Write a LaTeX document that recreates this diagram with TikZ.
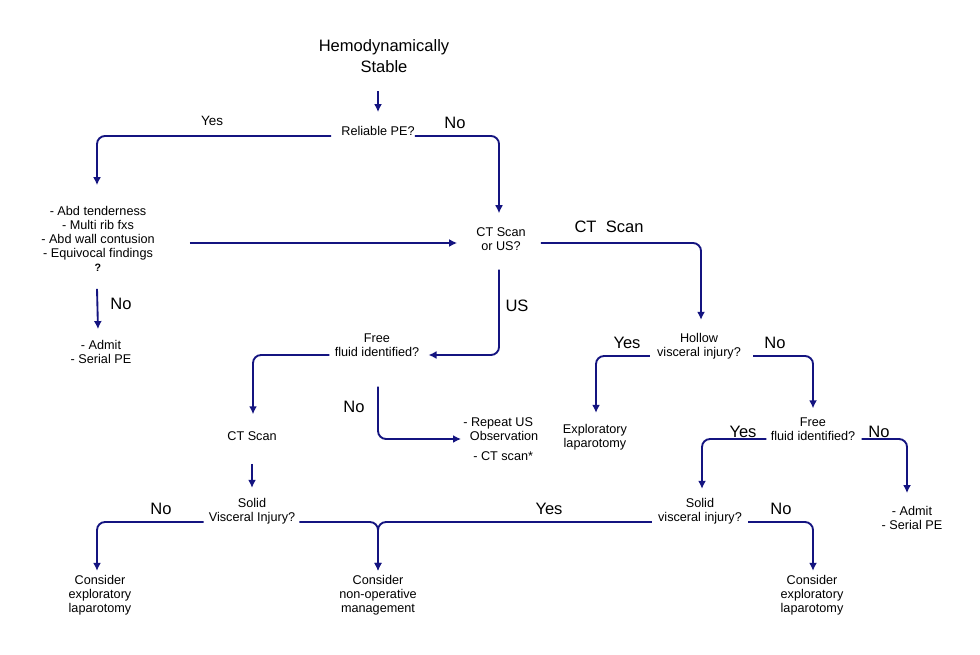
\documentclass[tikz,border=0pt]{standalone}
\usepackage{fontspec}
\setmainfont{Liberation Sans}
\usetikzlibrary{arrows.meta,calc}
\definecolor{navy}{RGB}{20,20,128}
\begin{document}
\begin{tikzpicture}[x=0.75pt,y=-0.75pt,
  txt/.style={inner sep=0pt, align=center, font=\fontsize{9.5}{10.5}\selectfont},
  big/.style={inner sep=0pt, align=center, font=\fontsize{12.4}{15.75}\selectfont},
  lbl/.style={inner sep=0pt, font=\fontsize{12.4}{15}\selectfont},
  conn/.style={draw=navy, line width=1.4pt, rounded corners=6pt},
  arr/.style={conn, -{Latex[length=6pt,width=6pt]}}]
\useasboundingbox[fill=white] (0,0) rectangle (980,655);

% main nodes
\node[big] (hemo) at (384,56) {Hemodynamically\\Stable};
\node[txt] (rel) at (378,131) {Reliable PE?};
\node[txt] (signs) at (98,239) {- Abd tenderness\\- Multi rib fxs\\- Abd wall contusion\\- Equivocal findings\\{\fontsize{8}{10.5}\selectfont\bfseries ?}};
\node[txt] (admit1) at (101,352) {- Admit\\- Serial PE};
\node[txt] (ctus) at (501,239) {CT Scan\\or US?};
\node[txt] (ff1) at (377,345) {Free\\fluid identified?};
\node[txt] (ct1) at (252,436) {CT Scan};
\node[txt, anchor=west, align=left] (rep) at (463,439) {- Repeat US\\\hspace*{5pt}Observation\\[4.5pt]\hspace*{7.5pt}- CT scan*};
\node[txt] (svi1) at (252,511) {Solid\\Visceral Injury?};
\node[txt] (cel1) at (100,595) {Consider\\exploratory\\laparotomy};
\node[txt] (nonop) at (378,595) {Consider\\non-operative\\management};
\node[txt] (hvi) at (699,346) {Hollow\\visceral injury?};
\node[txt] (expl) at (595,437) {Exploratory\\laparotomy};
\node[txt] (ff2) at (813,429) {Free\\fluid identified?};
\node[txt] (admit2) at (912,518) {- Admit\\- Serial PE};
\node[txt] (svi2) at (700,511) {Solid\\visceral injury?};
\node[txt] (cel2) at (812,595) {Consider\\exploratory\\laparotomy};

% branch labels
\node[lbl, font=\fontsize{10.1}{12}\selectfont] (lyes1) at (212,121) {Yes};
\node[lbl] (lno1) at (455,123) {No};
\node[lbl] (lno2) at (121,304) {No};
\node[lbl] (lus) at (517,306) {US};
\node[lbl] (lct) at (609,227) {CT\ \ Scan};
\node[lbl] (lno3) at (354,407) {No};
\node[lbl] (lno4) at (161,509) {No};
\node[lbl] (lyes2) at (549,509) {Yes};
\node[lbl] (lyes3) at (627,343) {Yes};
\node[lbl] (lno5) at (775,343) {No};
\node[lbl] (lyes4) at (743,432) {Yes};
\node[lbl] (lno6) at (879,432) {No};
\node[lbl] (lno7) at (781,509) {No};

% connectors
\draw[arr] ($(rel.north)+(0,-35)$) -- ($(rel.north)+(0,-14)$);
\draw[arr] ($(rel.west)+(-10,5)$) -| ($(signs.north)+(-1,-21)$);
\draw[arr] ($(rel.east)+(0,5)$) -| ($(ctus.north)+(-2,-14)$);
\draw[arr] ($(signs.east)+(35,4)$) -- ($(ctus.west)+(-19,4)$);
\draw[arr] ($(signs.south)+(-1,17)$) -- ($(admit1.north)+(-3,-11)$);
\draw[arr] ($(ctus.south)+(-2,19)$) |- ($(ff1.east)+(9,10)$);
\draw[arr] ($(ctus.east)+(15,4)$) -| ($(hvi.north)+(2,-13)$);
\draw[arr] ($(ff1.west)+(-5,10)$) -| ($(ct1.north)+(1,-17)$);
\draw[arr] ($(ff1.south)+(1,30)$) |- ($(rep.west)+(-2,0)$);
\draw[arr] ($(ct1.south)+(0,23)$) -- ($(svi1.north)+(0,-10)$);
\draw[arr] ($(svi1.west)+(-5,11)$) -| ($(cel1.north)+(-3,-4)$);
\draw[arr] ($(svi1.east)+(4,11)$) -| ($(nonop.north)+(0,-4)$);
\draw[arr] ($(svi2.west)+(-6,11)$) -| ($(nonop.north)+(0,-4)$);
\draw[arr] ($(hvi.west)+(-7,10)$) -| ($(expl.north)+(1,-11)$);
\draw[arr] ($(hvi.east)+(12,10)$) -| ($(ff2.north)+(0,-9)$);
\draw[arr] ($(ff2.west)+(-4,10)$) -| ($(svi2.north)+(2,-9)$);
\draw[arr] ($(ff2.east)+(6,10)$) -| ($(admit2.north)+(-5,-13)$);
\draw[arr] ($(svi2.east)+(6,11)$) -| ($(cel2.north)+(1,-4)$);
\end{tikzpicture}
\end{document}
